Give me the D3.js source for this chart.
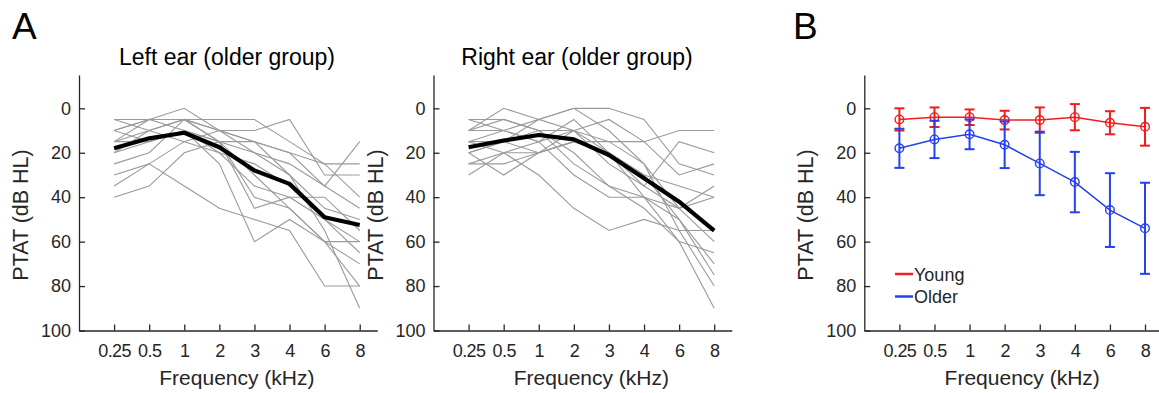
<!DOCTYPE html>
<html>
<head>
<meta charset="utf-8">
<script src="https://cdn.jsdelivr.net/npm/d3@7"></script>
<style>
  body { margin: 0; background: #fff; }
  svg { font-family: "Liberation Sans", Arial, sans-serif; }
</style>
</head>
<body>
<svg width="1159" height="393"></svg>
<script>
var svg = d3.select("svg");

var freqLabels = ["0.25", "0.5", "1", "2", "3", "4", "6", "8"];
var yTicks = [0, 20, 40, 60, 80, 100];

// individual thresholds, older group (dB HL)
var leftEar = [
  [5, 5, 5, 5, 5, 15, 25, 25],
  [10, 5, 0, 10, 10, 5, 30, 30],
  [10, 5, 5, 10, 15, 20, 25, 40],
  [15, 10, 5, 10, 20, 25, 35, 45],
  [5, 10, 15, 20, 25, 35, 50, 65],
  [15, 5, 10, 15, 15, 30, 45, 50],
  [20, 15, 10, 15, 30, 45, 60, 80],
  [25, 20, 5, 15, 45, 40, 50, 60],
  [10, 15, 10, 25, 60, 50, 60, 60],
  [30, 25, 35, 45, 50, 55, 80, 80],
  [40, 35, 20, 15, 40, 45, 60, 70],
  [35, 25, 15, 10, 15, 20, 35, 15],
  [20, 10, 5, 15, 20, 30, 55, 90],
  [15, 15, 10, 20, 35, 40, 40, 55]
];
var rightEar = [
  [15, 15, 20, 15, 15, 15, 10, 10],
  [10, 0, 5, 0, 0, 5, 25, 30],
  [5, 5, 10, 10, 5, 15, 30, 25],
  [25, 25, 20, 10, 15, 25, 45, 60],
  [30, 20, 20, 15, 20, 30, 50, 75],
  [20, 15, 5, 0, 10, 25, 55, 80],
  [10, 5, 10, 20, 35, 40, 50, 70],
  [15, 10, 15, 30, 40, 40, 45, 35],
  [20, 30, 20, 15, 20, 30, 35, 40],
  [5, 10, 15, 5, 20, 40, 60, 90],
  [15, 20, 30, 45, 55, 50, 55, 55],
  [20, 15, 10, 25, 35, 45, 60, 65],
  [10, 10, 5, 10, 25, 35, 15, 20],
  [25, 20, 15, 10, 20, 35, 45, 40]
];
var leftMean = [18, 13.5, 11, 17.5, 28, 34, 49, 52.5];
var rightMean = [17.5, 14.5, 12, 14, 21, 31.5, 42, 55];

// panel B: group means and SD
var youngMean = [5, 4, 4, 5.3, 5.3, 4, 6.5, 8.3];
var youngSd = [5, 4.4, 3.5, 4.2, 5.7, 5.9, 5.2, 8.5];
var olderMean = [18, 14, 11.7, 16.4, 24.8, 33.2, 45.8, 54];
var olderSd = [8.8, 8.4, 6.7, 10.5, 14.3, 13.6, 16.6, 20.5];

var axisColor = "#262626";

function makePanel(x0, title, titleX) {
  var x = d3.scaleLinear().domain([-1, 7.5]).range([x0, x0 + 8.5 * 35.09]);
  var y = d3.scaleLinear().domain([-15, 100]).range([75, 330.5]);
  var g = svg.append("g");

  var xAxis = d3.axisBottom(x).tickValues(d3.range(8))
    .tickFormat(function(i) { return freqLabels[i]; })
    .tickSizeInner(-6).tickSizeOuter(0).tickPadding(14);
  var yAxis = d3.axisLeft(y).tickValues(yTicks)
    .tickSizeInner(-6).tickSizeOuter(0).tickPadding(8);

  var gx = g.append("g").attr("transform", "translate(0,330.5)").call(xAxis);
  var gy = g.append("g").attr("transform", "translate(" + x0 + ",0)").call(yAxis);
  [gx, gy].forEach(function(a) {
    a.select(".domain").attr("stroke", axisColor).attr("stroke-width", 1.3);
    a.selectAll(".tick line").attr("stroke", axisColor).attr("stroke-width", 1.3);
    a.selectAll(".tick text").attr("fill", axisColor).style("font-size", "18px");
  });
  gx.selectAll(".tick text").style("letter-spacing", "-0.6px");

  g.append("text").attr("x", x(3.5)).attr("y", 385).attr("text-anchor", "middle")
    .attr("fill", axisColor).style("font-size", "21px").text("Frequency (kHz)");
  g.append("text").attr("transform", "translate(" + (x0 - 51) + "," + y(48) + ") rotate(-90)")
    .attr("text-anchor", "middle").attr("fill", axisColor).style("font-size", "21.5px")
    .text("PTAT (dB HL)");
  if (title) {
    g.append("text").attr("x", titleX).attr("y", 65).attr("text-anchor", "middle")
      .attr("fill", "#000").style("font-size", "23px").text(title);
  }
  return { g: g, x: x, y: y };
}

function drawEar(p, subjects, mean) {
  var line = d3.line().x(function(d, i) { return p.x(i); }).y(function(d) { return p.y(d); });
  p.g.selectAll("path.subj").data(subjects).enter().append("path")
    .attr("class", "subj").attr("d", line)
    .attr("fill", "none").attr("stroke", "#9a9a9a").attr("stroke-width", 1.1);
  p.g.append("path").datum(mean).attr("d", line)
    .attr("fill", "none").attr("stroke", "#000").attr("stroke-width", 4.2)
    .attr("stroke-linejoin", "round");
}

var pL = makePanel(79, "Left ear (older group)", 227);
drawEar(pL, leftEar, leftMean);
var pR = makePanel(433.5, "Right ear (older group)", 577);
drawEar(pR, rightEar, rightMean);
var pB = makePanel(864.3, null, 0);

function drawGroup(p, mean, sd, color) {
  var line = d3.line().x(function(d, i) { return p.x(i); }).y(function(d) { return p.y(d); });
  var gg = p.g.append("g");
  gg.append("path").datum(mean).attr("d", line)
    .attr("fill", "none").attr("stroke", color).attr("stroke-width", 1.5);
  var eb = gg.selectAll("g.eb").data(mean).enter().append("g").attr("class", "eb");
  eb.append("line")
    .attr("x1", function(d, i) { return p.x(i); }).attr("x2", function(d, i) { return p.x(i); })
    .attr("y1", function(d, i) { return p.y(d - sd[i]); })
    .attr("y2", function(d, i) { return p.y(d + sd[i]); })
    .attr("stroke", color).attr("stroke-width", 2);
  [-1, 1].forEach(function(s) {
    eb.append("line")
      .attr("x1", function(d, i) { return p.x(i) - 5; }).attr("x2", function(d, i) { return p.x(i) + 5; })
      .attr("y1", function(d, i) { return p.y(d + s * sd[i]); })
      .attr("y2", function(d, i) { return p.y(d + s * sd[i]); })
      .attr("stroke", color).attr("stroke-width", 2);
  });
  eb.append("circle")
    .attr("cx", function(d, i) { return p.x(i); }).attr("cy", function(d) { return p.y(d); })
    .attr("r", 4.3).attr("fill", "none").attr("stroke", color).attr("stroke-width", 1.4);
}

var red = "#f21c1c", blue = "#2440f0";
drawGroup(pB, youngMean, youngSd, red);
drawGroup(pB, olderMean, olderSd, blue);

var legend = [{ name: "Young", color: red }, { name: "Older", color: blue }];
var lg = pB.g.selectAll("g.lg").data(legend).enter().append("g").attr("class", "lg")
  .attr("transform", function(d, i) { return "translate(895," + (274 + i * 22.5) + ")"; });
lg.append("line").attr("x1", 0).attr("x2", 18).attr("y1", 0).attr("y2", 0)
  .attr("stroke", function(d) { return d.color; }).attr("stroke-width", 2.5);
lg.append("text").attr("x", 19).attr("y", 6.5).attr("fill", axisColor)
  .style("font-size", "18px").text(function(d) { return d.name; });

svg.append("text").attr("x", 12).attr("y", 39).style("font-size", "37px").text("A");
svg.append("text").attr("x", 793).attr("y", 39).style("font-size", "37px").text("B");
</script>
</body>
</html>
